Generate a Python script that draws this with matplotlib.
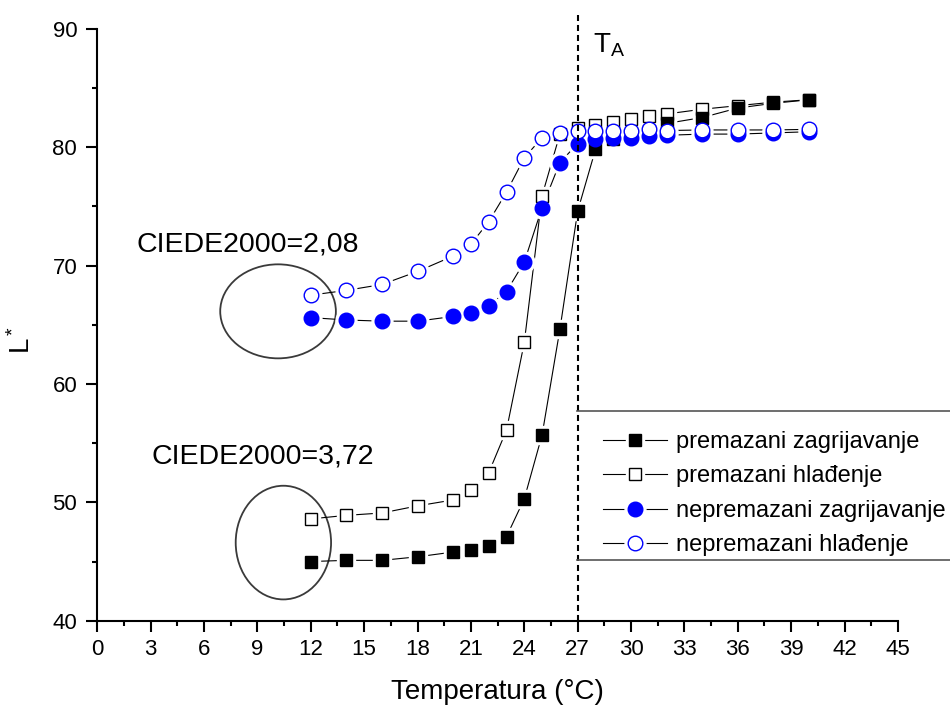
import numpy as np
import matplotlib
matplotlib.use("Agg")
import matplotlib.pyplot as plt
from matplotlib.patches import Ellipse
from matplotlib.lines import Line2D
from matplotlib.legend_handler import HandlerTuple

plt.rcParams['font.family'] = ['Liberation Sans', 'DejaVu Sans']
plt.rcParams['mathtext.fontset'] = 'custom'
plt.rcParams['mathtext.rm'] = 'Liberation Sans'
plt.rcParams['mathtext.it'] = 'Liberation Sans:italic'

# Data
temp = [12, 14, 16, 18, 20, 21, 22, 23, 24, 25, 26, 27, 28, 29, 30, 31, 32, 34, 36, 38, 40]
prem_zagrij = [45.0, 45.1, 45.1, 45.4, 45.8, 46.0, 46.3, 47.1, 50.3, 55.7, 64.6, 74.6,
               79.8, 80.7, 81.0, 81.4, 82.0, 82.5, 83.3, 83.7, 84.0]
prem_hlad = [48.6, 48.9, 49.1, 49.7, 50.2, 51.0, 52.5, 56.1, 63.5, 75.9, 81.1, 81.6,
             81.9, 82.1, 82.4, 82.6, 82.8, 83.2, 83.5, 83.8, 84.0]
neprem_zagrij = [65.6, 65.4, 65.3, 65.3, 65.7, 66.0, 66.6, 67.8, 70.3, 74.9, 78.7, 80.3,
                 80.7, 80.8, 80.8, 80.9, 81.0, 81.1, 81.1, 81.2, 81.3]
neprem_hlad = [67.5, 67.9, 68.4, 69.5, 70.8, 71.8, 73.7, 76.2, 79.1, 80.8, 81.2, 81.35,
               81.35, 81.35, 81.4, 81.5, 81.4, 81.45, 81.45, 81.45, 81.5]
labels = ['premazani zagrijavanje', 'premazani hlađenje',
          'nepremazani zagrijavanje', 'nepremazani hlađenje']
T_A = 27

fig = plt.figure(figsize=(9.5, 7.09), dpi=100)
ax = fig.add_axes([0.1024, 0.1245, 0.8428, 0.8350])

# marker styles: (marker, size, face, edge)
styles = [('s', 8.5, 'black', 'black'),
          ('s', 8.5, 'white', 'black'),
          ('o', 10.5, 'blue', 'blue'),
          ('o', 10.5, 'white', 'blue')]
series = [prem_zagrij, prem_hlad, neprem_zagrij, neprem_hlad]
draw_order = [1, 0, 2, 3]
marker_z = {1: 4.0, 0: 4.1, 2: 4.2, 3: 4.3}

handles = []
for i, (y, (m, ms, fc, ec)) in enumerate(zip(series, styles)):
    ax.plot(temp, y, color='black', lw=0.8, zorder=2)
    # white halo -> gap between line and marker
    ax.plot(temp, y, ls='none', marker=m, ms=ms + 4.5, mfc='white', mec='white', zorder=3)
    handles.append((Line2D([], [], color='black', lw=0.8),
                    Line2D([], [], ls='none', marker=m, ms=ms + 4.5, mfc='white', mec='white'),
                    Line2D([], [], ls='none', marker=m, ms=ms, mfc=fc, mec=ec, mew=1.0)))
for i in draw_order:
    m, ms, fc, ec = styles[i]
    ax.plot(temp, series[i], ls='none', marker=m, ms=ms, mfc=fc, mec=ec, mew=1.0,
            zorder=marker_z[i])

# T_A line
ax.plot([T_A, T_A], [40, 91.16], color='black', lw=1.5, ls=(0, (2.9, 1.9)),
        zorder=10, clip_on=False)
ax.text(27.86, 87.95, r'$\mathregular{T_A}$', fontsize=20, ha='left', va='baseline')

# ellipses + CIEDE2000 notes
ax.add_patch(Ellipse((10.16, 66.13), 6.50, 7.94, fill=False, ec='#3a3a3a', lw=1.3))
ax.add_patch(Ellipse((10.46, 46.6), 5.36, 9.60, fill=False, ec='#3a3a3a', lw=1.3))
ax.text(2.21, 71.17, 'CIEDE2000=2,08', fontsize=20.5, ha='left', va='baseline')
ax.text(3.06, 53.29, 'CIEDE2000=3,72', fontsize=20.5, ha='left', va='baseline')

ax.set_xlim(0, 45)
ax.set_ylim(40, 90)
ax.set_xticks(np.arange(0, 46, 3))
ax.set_xticks(np.arange(1.5, 45, 3), minor=True)
ax.set_yticks(np.arange(40, 91, 10))
ax.set_yticks(np.arange(45, 90, 10), minor=True)
for s in ['top', 'right']:
    ax.spines[s].set_visible(False)
for s in ['left', 'bottom']:
    ax.spines[s].set_linewidth(1.5)
ax.tick_params(which='major', direction='out', length=8, width=1.5, labelsize=16)
ax.tick_params(which='minor', direction='out', length=3.5, width=1.5)
ax.tick_params(axis='x', pad=5)
ax.tick_params(axis='y', pad=6.5)

fig.text(497 / 950, 1 - 692 / 709, 'Temperatura (°C)', fontsize=20, ha='center', va='center')
fig.text(22 / 950, 1 - 340 / 709, r'$\mathregular{L^*}$', fontsize=20, rotation=90,
         ha='center', va='center')

leg = fig.legend(handles, labels, handler_map={tuple: HandlerTuple(ndivide=1)},
                 loc='upper left', bbox_to_anchor=(583 / 950, 1 - 411 / 709),
                 bbox_transform=fig.transFigure, borderaxespad=0, frameon=False,
                 fontsize=17, handlelength=2.7, handletextpad=0.4, labelspacing=0.525,
                 borderpad=0.85)

# legend box: only top and bottom edges visible, open to the right
for ypx in (411, 560):
    fig.add_artist(Line2D([577 / 950, 1.0], [1 - ypx / 709] * 2, color='#555555', lw=1.2,
                          transform=fig.transFigure))

fig.savefig('out.png', dpi=100)
